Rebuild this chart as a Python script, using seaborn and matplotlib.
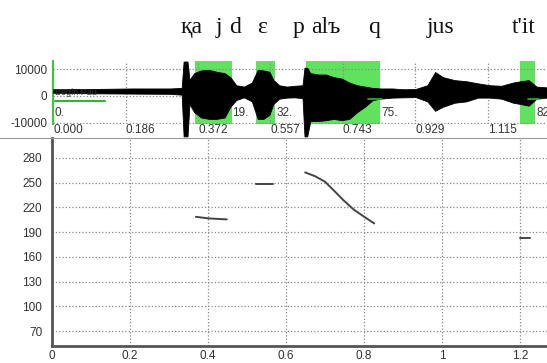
import numpy as np
import pandas as pd
import matplotlib
matplotlib.use('Agg')
import matplotlib.pyplot as plt
from matplotlib.lines import Line2D
import seaborn as sns

# waveform envelope (time in s, amplitude)
wave_t = [0.0, 0.10, 0.20, 0.30, 0.330, 0.335, 0.345, 0.350, 0.362, 0.38, 0.40, 0.42,
          0.44, 0.455, 0.47, 0.49, 0.51, 0.525, 0.54, 0.555, 0.565, 0.58, 0.60, 0.62,
          0.64, 0.645, 0.652, 0.66, 0.68, 0.70, 0.72, 0.74, 0.76, 0.78, 0.80, 0.82,
          0.84, 0.87, 0.90, 0.93, 0.96, 0.98, 1.00, 1.03, 1.06, 1.09, 1.12, 1.15,
          1.18, 1.20, 1.22, 1.24, 1.267]
wave_hi = [2500, 2600, 2800, 2800, 3000, 12800, 12800, 6000, 8500, 9500, 9700, 9000,
           8500, 7000, 4000, 3500, 5000, 9700, 9500, 9000, 6000, 4000, 3500, 3800,
           4000, 10500, 10500, 8500, 8000, 8000, 7000, 6500, 5000, 4000, 3500, 3000,
           2800, 2800, 2500, 2600, 4000, 8900, 7000, 5900, 5500, 4700, 4000, 3800,
           5000, 5500, 5900, 3500, 3200]
wave_lo = [1200, 1000, 900, 800, 500, -15000, -15000, -3000, -6000, -8000, -8500, -8500,
           -8000, -4000, -1500, -500, -2000, -8500, -8500, -7000, -3000, -1000, -600, -500,
           -800, -15000, -15000, -9300, -9300, -9000, -8500, -9000, -8500, -6000, -4000, -1500,
           -1000, -600, -500, -400, -2000, -5500, -4000, -2500, -2000, -600, -600, -1000,
           -2500, -3000, -3600, -1000, -600]

# voiced (green) intervals
voiced_start = [0.364, 0.521, 0.649, 1.197]
voiced_end = [0.459, 0.569, 0.838, 1.236]

# segment labels in the waveform panel
seg_labels = ['0.', '19.', '32.', '75.', '82']
seg_label_t = [0.005, 0.459, 0.574, 0.841, 1.241]

wave_ticks = [0.000, 0.186, 0.372, 0.557, 0.743, 0.929, 1.115]

# pitch track (Hz)
pitch_seg = [1, 1, 1, 2, 2, 3, 3, 3, 3, 3, 3, 3, 3, 4, 4]
pitch_t = [0.369, 0.401, 0.448, 0.523, 0.567, 0.649, 0.674, 0.700, 0.726, 0.747,
           0.773, 0.794, 0.826, 1.200, 1.226]
pitch_hz = [208.5, 206.6, 205.4, 248.5, 248.5, 262.3, 257.8, 251.0, 238.8, 228.7,
            217.5, 210.6, 200.5, 183.0, 183.0]

# transcription above the chart
words = ['қa', 'j', 'd', 'ɛ', 'p', 'alъ', 'q', 'jus', "t'it"]
word_x = [181, 216, 229, 257, 293, 311, 368, 427, 512]

sns.set_style('white')
plt.rcParams['font.family'] = ['Liberation Sans', 'DejaVu Sans']

W, H = 547, 363
fig = plt.figure(figsize=(W / 100, H / 100), dpi=100)


def rect(x0, y0, x1, y1):
    return [x0 / W, 1 - y1 / H, (x1 - x0) / W, (y1 - y0) / H]


for w, x in zip(words, word_x):
    fig.text(x / W, 1 - 33 / H, w, fontsize=17, va='baseline', ha='left',
             family=['Liberation Serif', 'DejaVu Serif'], color='#111')

# ---- waveform panel
ax_w = fig.add_axes(rect(53, 61, 547, 124))
green = '#5fe35f'
for a, b in zip(voiced_start, voiced_end):
    ax_w.axvspan(a, b, color=green, lw=0, zorder=0)
ax_w.fill_between(wave_t, wave_lo, wave_hi, color='black', lw=0.6, zorder=3, clip_on=False)
ax_w.plot([0.005, 0.133], [-1700, -1700], color='#2db82d', lw=1.5, zorder=4)
ax_w.plot([0.808, 0.845], [-1000, -1000], color='#2db82d', lw=1.2, zorder=4)
ax_w.plot([1.218, 1.247], [-1000, -1000], color='#2db82d', lw=1.2, zorder=4)
ax_w.text(0.005, 1330, 'Begin Pau', fontsize=6.5, color='#333', va='center', zorder=5)
for s, t in zip(seg_labels, seg_label_t):
    ax_w.text(t, -6260, s, fontsize=8.5, color='#333', va='center', zorder=5)

ax_w.set_xlim(0, 1.267)
ax_w.set_ylim(-10400, 13000)
ax_w.set_xticks(wave_ticks)
ax_w.set_xticklabels([f'{v:.3f}' for v in wave_ticks], ha='left')
ax_w.set_yticks([10000, 0, -10000])
ax_w.set_yticklabels(['10000', '0', '-10000'])
ax_w.tick_params(length=0, labelsize=8.5, labelcolor='#333')
ax_w.tick_params(axis='x', pad=0)
ax_w.tick_params(axis='y', pad=4)
ax_w.grid(True, ls=':', color='#888', lw=0.9, zorder=1)
for side in ['top', 'right', 'bottom']:
    ax_w.spines[side].set_visible(False)
ax_w.spines['left'].set_color('#3cc83c')
ax_w.spines['left'].set_linewidth(1.5)

fig.add_artist(Line2D([0, 1], [1 - 138 / H] * 2, color='#999', lw=0.8))

# ---- pitch panel
ax_p = fig.add_axes(rect(52, 138, 547, 346))
df = pd.DataFrame({'seg': pitch_seg, 't': pitch_t, 'hz': pitch_hz})
for _, g in df.groupby('seg'):
    sns.lineplot(data=g, x='t', y='hz', ax=ax_p, color='#444', lw=1.4,
                 estimator=None, sort=False)
ax_p.set_xlim(0, 1.269)
ax_p.set_ylim(52, 304)
ax_p.set_xticks([0, 0.2, 0.4, 0.6, 0.8, 1.0, 1.2])
ax_p.set_xticklabels(['0', '0.2', '0.4', '0.6', '0.8', '1', '1.2'])
ax_p.set_yticks(range(70, 281, 30))
ax_p.set_xlabel('')
ax_p.set_ylabel('')
ax_p.tick_params(length=0, labelsize=8.5, labelcolor='#333')
ax_p.tick_params(axis='x', pad=3)
ax_p.tick_params(axis='y', pad=7)
ax_p.grid(True, ls=':', color='#888', lw=0.9)
ax_p.spines['top'].set_visible(False)
ax_p.spines['right'].set_visible(False)
for side in ['left', 'bottom']:
    ax_p.spines[side].set_color('#555')
    ax_p.spines[side].set_linewidth(2)

fig.savefig('out.png', dpi=100)
